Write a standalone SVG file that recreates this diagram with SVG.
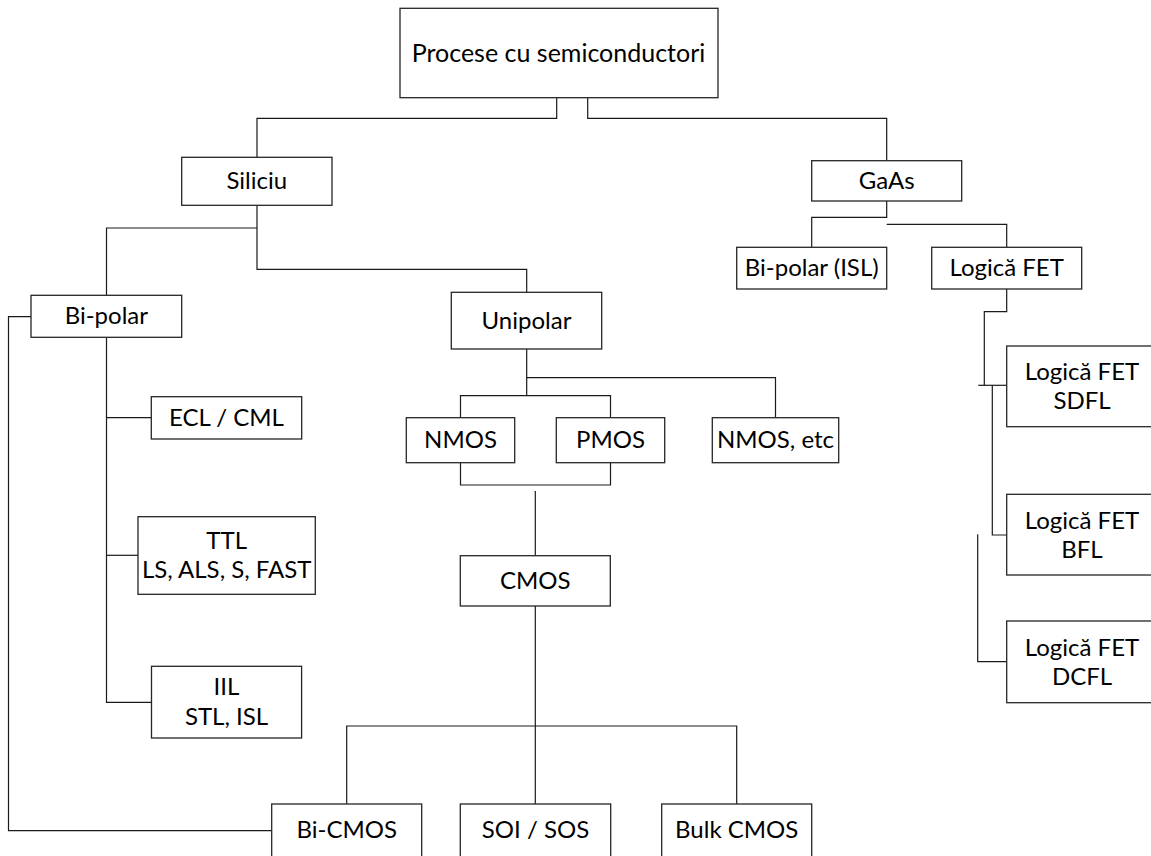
<svg xmlns="http://www.w3.org/2000/svg" width="1151" height="856" viewBox="0 0 1151 856">
<style>
  .box { fill: #ffffff; stroke: #262626; stroke-width: 1.3; }
  .lbl { font-family: Lato, "Liberation Sans", sans-serif; font-size: 24px; fill: #000; text-anchor: middle; }
  .big { font-size: 25px; }
  .conn path { fill: none; stroke: #1a1a1a; stroke-width: 1.2; }
</style>
<rect width="1151" height="856" fill="#ffffff"/>
<g id="connectors" class="conn">
  <path d="M556.7,97.7 V118.3 H257 V157.3"/>
  <path d="M587.7,97.7 V118.3 H886.7 V160.7"/>
  <path d="M257,205.3 V269.3 H526.7 V292.3"/>
  <path d="M257,228 H106.5 V295.3"/>
  <path d="M106.5,337.3 V702.3 H151.5"/>
  <path d="M106.5,417.7 H151.3"/>
  <path d="M106.5,555.3 H138"/>
  <path d="M31,316.7 H8.5 V830.7 H271.7"/>
  <path d="M526.7,349 V395.7"/>
  <path d="M526.7,377.7 H775.5 V417.7"/>
  <path d="M460.5,417.7 V395.7 H610.5 V417.7"/>
  <path d="M460.5,462.7 V485 H610.5 V462.7"/>
  <path d="M535.3,491 V555.7"/>
  <path d="M535.3,606 V804"/>
  <path d="M346.7,804 V726 H736.7 V804"/>
  <path d="M886.7,201 V217.3 H811.7 V247.3"/>
  <path d="M886.7,224.3 H1006.7 V247.3"/>
  <path d="M1006.7,289 V311.7 H984.3 V386"/>
  <path d="M978.3,385.3 H1006.7"/>
  <path d="M992.3,385.3 V535 H1006.7"/>
  <path d="M977.7,534.3 V661.7 H1006.7"/>
</g>
<g id="n-root"><rect class="box" x="400" y="8.3" width="318" height="89.4"/><text class="lbl big" x="558.5" y="62">Procese cu semiconductori</text></g>
<g id="n-siliciu"><rect class="box" x="181.7" y="157.3" width="150.3" height="48"/><text class="lbl" x="256.8" y="189">Siliciu</text></g>
<g id="n-gaas"><rect class="box" x="811.7" y="160.7" width="150" height="40.3"/><text class="lbl" x="886.7" y="189">GaAs</text></g>
<g id="n-bipolar-isl"><rect class="box" x="736.7" y="247.3" width="150" height="41.7"/><text class="lbl" x="811.7" y="276">Bi-polar (ISL)</text></g>
<g id="n-logica-fet"><rect class="box" x="931.7" y="247.3" width="150" height="41.7"/><text class="lbl" x="1006.7" y="276">Logică FET</text></g>
<g id="n-bipolar"><rect class="box" x="31" y="295.3" width="150.7" height="42"/><text class="lbl" x="106.3" y="324">Bi-polar</text></g>
<g id="n-unipolar"><rect class="box" x="451.3" y="292.3" width="150.4" height="56.7"/><text class="lbl" x="526.5" y="328.5">Unipolar</text></g>
<g id="n-ecl"><rect class="box" x="151.3" y="396.7" width="150.4" height="42.3"/><text class="lbl" x="226.5" y="425.7">ECL / CML</text></g>
<g id="n-ttl"><rect class="box" x="138" y="516.7" width="177.3" height="77.6"/><text class="lbl" x="226.7" y="549">TTL</text><text class="lbl" x="226.7" y="578">LS, ALS, S, FAST</text></g>
<g id="n-iil"><rect class="box" x="151.5" y="666.3" width="150.1" height="71.7"/><text class="lbl" x="226.5" y="695">IIL</text><text class="lbl" x="226.5" y="724.5">STL, ISL</text></g>
<g id="n-nmos"><rect class="box" x="406.3" y="417.7" width="108.4" height="45"/><text class="lbl" x="460.5" y="448">NMOS</text></g>
<g id="n-pmos"><rect class="box" x="556.3" y="417.7" width="108.4" height="45"/><text class="lbl" x="610.5" y="448">PMOS</text></g>
<g id="n-nmos-etc"><rect class="box" x="712.3" y="417.7" width="126.4" height="45"/><text class="lbl" x="775.5" y="448">NMOS, etc</text></g>
<g id="n-cmos"><rect class="box" x="460.3" y="555.7" width="150" height="50.3"/><text class="lbl" x="535.3" y="588.7">CMOS</text></g>
<g id="n-bicmos"><rect class="box" x="271.7" y="804" width="150" height="60"/><text class="lbl" x="346.7" y="838.3">Bi-CMOS</text></g>
<g id="n-soi"><rect class="box" x="460.3" y="804" width="150.4" height="60"/><text class="lbl" x="535.5" y="838.3">SOI / SOS</text></g>
<g id="n-bulk"><rect class="box" x="661.7" y="804" width="150" height="60"/><text class="lbl" x="736.7" y="838.3">Bulk CMOS</text></g>
<g id="n-sdfl"><rect class="box" x="1006.7" y="346" width="150" height="80.7"/><text class="lbl" x="1082" y="380">Logică FET</text><text class="lbl" x="1082" y="409">SDFL</text></g>
<g id="n-bfl"><rect class="box" x="1006.7" y="494.3" width="150" height="80.7"/><text class="lbl" x="1082" y="528.5">Logică FET</text><text class="lbl" x="1082" y="557.5">BFL</text></g>
<g id="n-dcfl"><rect class="box" x="1006.7" y="621" width="150" height="81.7"/><text class="lbl" x="1082" y="655.5">Logică FET</text><text class="lbl" x="1082" y="684.5">DCFL</text></g>
</svg>
